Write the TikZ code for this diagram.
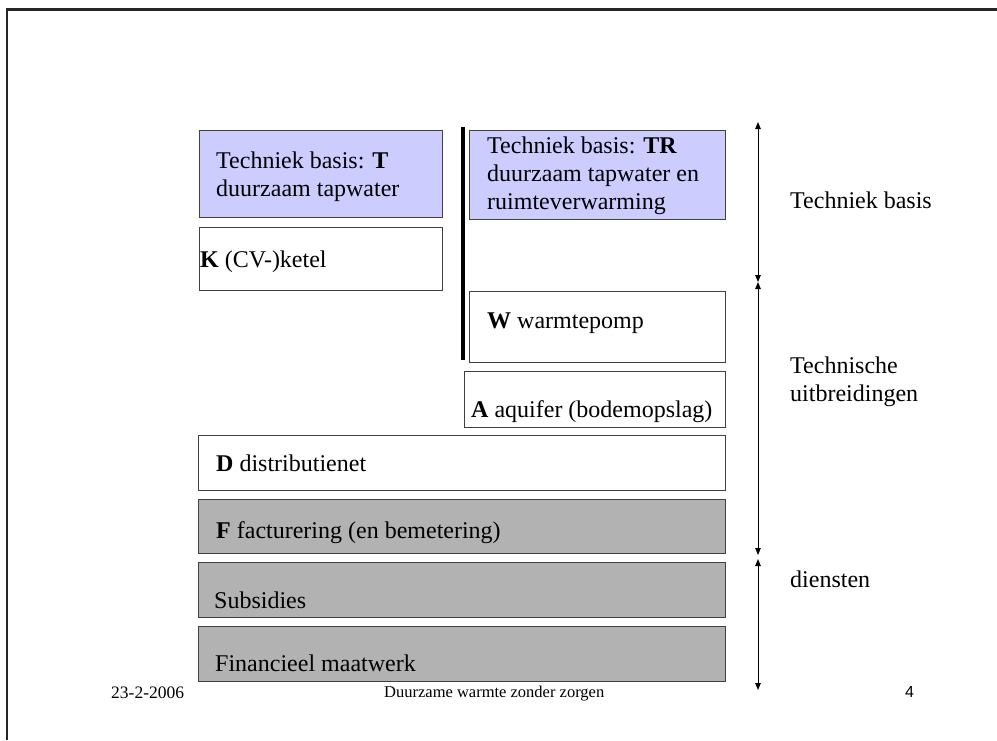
\documentclass[tikz,border=0pt]{standalone}
\usepackage{fontspec}
\setmainfont{Liberation Serif}
\newfontfamily\footsans{Liberation Sans}
\usetikzlibrary{arrows.meta}
\definecolor{lav}{HTML}{CCCCFF}
\definecolor{grayfill}{HTML}{B2B2B2}
\definecolor{edge}{HTML}{404040}
\begin{document}
\begin{tikzpicture}[x=1pt,y=-1pt,
  box/.style={draw=edge, line width=1.2pt, anchor=north west, inner sep=0pt},
  lbl/.style={anchor=base west, inner sep=0pt, font=\fontsize{24}{28}\selectfont},
  foot/.style={anchor=base west, inner sep=0pt, font=\fontsize{17.5}{20}\selectfont},
  span/.style={line width=1pt, {Triangle[length=7pt,width=5.5pt]}-{Triangle[length=7pt,width=5.5pt]}}
]
\useasboundingbox (0,0) rectangle (997,740);
% frame
\coordinate (f1) at (997,9.5);
\coordinate (f2) at (7,9.5);
\coordinate (f3) at (7,740);
\draw[line width=2.5pt, black!85] (f1) -- (f2) -- (f3);

% boxes
\node[box, fill=lav, minimum width=243pt, minimum height=87pt] (T) at (199,130) {};
\node[box, fill=lav, minimum width=256pt, minimum height=89pt] (TR) at (469,130) {};
\node[box, fill=white, minimum width=243pt, minimum height=63pt] (K) at (199,227) {};
\node[box, fill=white, minimum width=256pt, minimum height=71pt] (W) at (469,291) {};
\node[box, fill=white, minimum width=261pt, minimum height=56pt] (A) at (464,371) {};
\node[box, fill=white, minimum width=527pt, minimum height=55pt] (D) at (198,435) {};
\node[box, fill=grayfill, minimum width=527pt, minimum height=54pt] (F) at (198,499) {};
\node[box, fill=grayfill, minimum width=527pt, minimum height=55pt] (S) at (198,562) {};
\node[box, fill=grayfill, minimum width=527pt, minimum height=55pt] (FM) at (198,626) {};

% thick separator
\coordinate (s1) at (463,127);
\coordinate (s2) at (463,360);
\draw[line width=4pt] (s1) -- (s2);

% box texts
\node[lbl] (t1) at (216,168) {Techniek basis: \textbf{T}};
\node[lbl] (t2) at (216,196) {duurzaam tapwater};
\node[lbl] (tr1) at (487,153) {Techniek basis: \textbf{TR}};
\node[lbl] (tr2) at (487,181) {duurzaam tapwater en};
\node[lbl] (tr3) at (487,209) {ruimteverwarming};
\node[lbl] (k1) at (200,267) {\textbf{K} (CV-)ketel};
\node[lbl] (w1) at (487,328) {\textbf{W} warmtepomp};
\node[lbl] (a1) at (471,417) {\textbf{A} aquifer (bodemopslag)};
\node[lbl] (d1) at (216,471) {\textbf{D} distributienet};
\node[lbl] (fa1) at (216,538) {\textbf{F} facturering (en bemetering)};
\node[lbl] (su1) at (214,608) {Subsidies};
\node[lbl] (fm1) at (215,671) {Financieel maatwerk};

% spans
\coordinate (a0) at (758,122);
\coordinate (a1c) at (758,282);
\coordinate (a2) at (758,555);
\coordinate (a3) at (758,559);
\coordinate (a4) at (758,690);
\draw[span] (a0) -- (a1c);
\draw[span] (a1c) -- (a2);
\draw[span] (a3) -- (a4);

% right labels
\node[lbl] (r1) at (790,208) {Techniek basis};
\node[lbl] (r2) at (790,373) {Technische};
\node[lbl] (r3) at (790,401) {uitbreidingen};
\node[lbl] (r4) at (790,587) {diensten};

% footer
\node[foot] (date) at (111,698) {23-2-2006};
\node[foot, font=\fontsize{16.5}{20}\selectfont] (title) at (384,697) {Duurzame warmte zonder zorgen};
\node[foot, font=\footsans\fontsize{16}{20}\selectfont] (page) at (905,697) {4};
\end{tikzpicture}
\end{document}
